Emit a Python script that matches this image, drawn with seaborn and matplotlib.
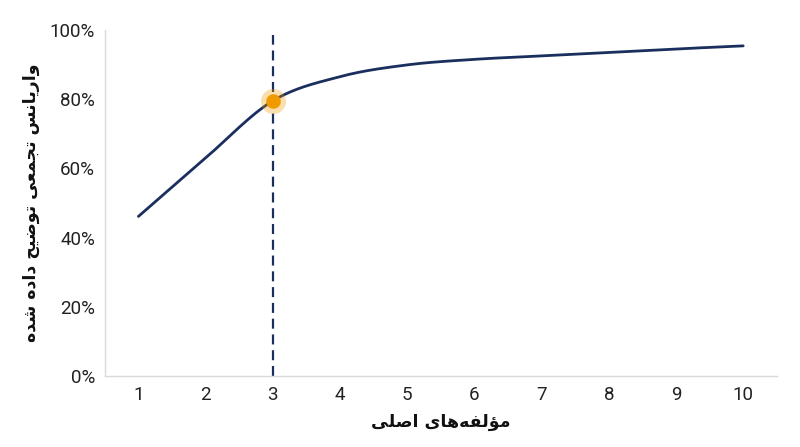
import numpy as np
import pandas as pd
import seaborn as sns
import matplotlib.pyplot as plt

# données
components = [1, 2, 3, 4, 5, 6, 7, 8, 9, 10]
cum_var = [0.461, 0.630, 0.795, 0.865, 0.899, 0.915, 0.925, 0.935, 0.945, 0.954]
y_ticks = [0, 0.2, 0.4, 0.6, 0.8, 1.0]
y_ticklabels = ["0%", "20%", "40%", "60%", "80%", "100%"]
elbow = 3
xlabel_txt = "مؤلفه‌های اصلی"
ylabel_txt = "واریانس تجمعی توضیح داده شده"

navy = "#1b2f5e"
orange = "#f09a00"

# mise en forme minimale de l'arabe/persan (formes de présentation + ordre visuel)
FORMS = {
    "ا": ("\ufe8d", "\ufe8e", None, None),
    "د": ("\ufea9", "\ufeaa", None, None),
    "ر": ("\ufead", "\ufeae", None, None),
    "و": ("\ufeed", "\ufeee", None, None),
    "ؤ": ("\ufe85", "\ufe86", None, None),
    "ت": ("\ufe95", "\ufe96", "\ufe97", "\ufe98"),
    "ج": ("\ufe9d", "\ufe9e", "\ufe9f", "\ufea0"),
    "ح": ("\ufea1", "\ufea2", "\ufea3", "\ufea4"),
    "س": ("\ufeb1", "\ufeb2", "\ufeb3", "\ufeb4"),
    "ش": ("\ufeb5", "\ufeb6", "\ufeb7", "\ufeb8"),
    "ص": ("\ufeb9", "\ufeba", "\ufebb", "\ufebc"),
    "ض": ("\ufebd", "\ufebe", "\ufebf", "\ufec0"),
    "ع": ("\ufec9", "\ufeca", "\ufecb", "\ufecc"),
    "ف": ("\ufed1", "\ufed2", "\ufed3", "\ufed4"),
    "ل": ("\ufedd", "\ufede", "\ufedf", "\ufee0"),
    "م": ("\ufee1", "\ufee2", "\ufee3", "\ufee4"),
    "ن": ("\ufee5", "\ufee6", "\ufee7", "\ufee8"),
    "ه": ("\ufee9", "\ufeea", "\ufeeb", "\ufeec"),
    "ی": ("\ufeef", "\ufef0", "\ufef3", "\ufef4"),
}


def shape(txt):
    out = []
    for i, c in enumerate(txt):
        if c not in FORMS:
            if c != "\u200c":
                out.append(c)
            continue
        prev = txt[i - 1] if i > 0 else ""
        nxt = txt[i + 1] if i + 1 < len(txt) else ""
        j_prev = prev in FORMS and FORMS[prev][2] is not None
        j_next = FORMS[c][2] is not None and nxt in FORMS
        iso, fin, ini, med = FORMS[c]
        if j_prev and j_next:
            out.append(med)
        elif j_prev:
            out.append(fin)
        elif j_next:
            out.append(ini)
        else:
            out.append(iso)
    return "".join(out)[::-1]


def smooth(x, y, n=30):
    # courbe lissée (Catmull-Rom) comme la ligne lissée d'Excel
    x = np.asarray(x, float)
    y = np.asarray(y, float)
    px = np.concatenate([[2 * x[0] - x[1]], x, [2 * x[-1] - x[-2]]])
    py = np.concatenate([[2 * y[0] - y[1]], y, [2 * y[-1] - y[-2]]])
    xs, ys = [], []
    for i in range(1, len(px) - 2):
        t = np.linspace(0, 1, n, endpoint=False)
        for p, acc in ((px, xs), (py, ys)):
            p0, p1, p2, p3 = p[i - 1], p[i], p[i + 1], p[i + 2]
            acc.extend(0.5 * (2 * p1 + (-p0 + p2) * t
                              + (2 * p0 - 5 * p1 + 4 * p2 - p3) * t ** 2
                              + (-p0 + 3 * p1 - 3 * p2 + p3) * t ** 3))
    xs.append(x[-1])
    ys.append(y[-1])
    return np.array(xs), np.array(ys)


sns.set_theme(style="white")
plt.rcParams["font.family"] = ["Roboto", "DejaVu Sans"]

fig = plt.figure(figsize=(8, 4.47), dpi=100)
ax = fig.add_axes([0.131, 0.159, 0.840, 0.774])

sx, sy = smooth(components, cum_var)
df = pd.DataFrame({"x": sx, "y": sy})
sns.lineplot(data=df, x="x", y="y", ax=ax, color=navy, linewidth=2.0, sort=False)

ax.axvline(elbow, ymin=0, ymax=0.985, color=navy, linestyle=(0, (4.5, 2.6)), linewidth=1.6, zorder=1)

yi = cum_var[components.index(elbow)]
ax.plot([elbow], [yi], "o", markersize=18, color=orange, alpha=0.32, markeredgewidth=0, zorder=4)
ax.plot([elbow], [yi], "o", markersize=10.5, color=orange, markeredgewidth=0, zorder=5)

ax.set_xlim(0.5, 10.5)
ax.set_ylim(0, 1.0)
ax.set_xticks(components)
ax.set_xticklabels([str(c) for c in components], fontsize=13.5, color="#222222")
ax.set_yticks(y_ticks)
ax.set_yticklabels(y_ticklabels, fontsize=13.5, color="#222222")
ax.tick_params(axis="both", length=0, pad=7)

for s in ["top", "right"]:
    ax.spines[s].set_visible(False)
for s in ["left", "bottom"]:
    ax.spines[s].set_color("#d9d9d9")
    ax.spines[s].set_linewidth(1.0)

ax.set_xlabel(shape(xlabel_txt), fontsize=12.5, fontweight="bold", family="DejaVu Sans",
              color="#111111", labelpad=7)
ax.set_ylabel(shape(ylabel_txt), fontsize=12.5, fontweight="bold", family="DejaVu Sans",
              color="#111111", labelpad=7)

fig.savefig("out.png", dpi=100)
